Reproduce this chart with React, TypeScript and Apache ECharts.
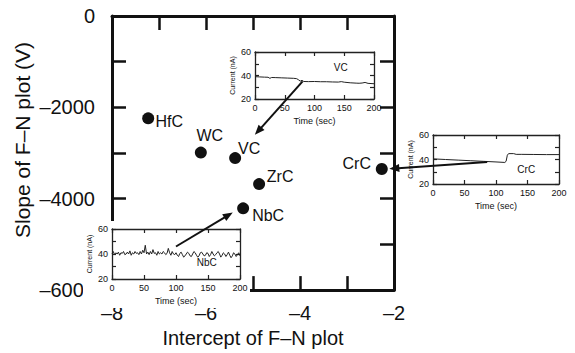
import React, { useEffect, useRef } from "react";
import * as echarts from "echarts";

// Main scatter data
const materials = ["HfC", "WC", "VC", "ZrC", "NbC", "CrC"];
const intercepts = [-7.23, -6.11, -5.38, -4.87, -5.21, -2.26];
const slopes = [-2240, -2990, -3110, -3680, -4210, -3350];

// Inset: VC current trace
const vcTime = [0, 8, 16, 22, 25, 28, 35, 45, 55, 65, 70, 73, 76, 79, 82, 90, 100, 110, 120, 130, 140, 145, 150, 160, 170, 175, 180, 185, 190, 200];
const vcCurrent = [39.0, 38.8, 38.6, 38.5, 37.6, 38.3, 38.2, 38.0, 37.8, 37.6, 37.3, 36.4, 35.2, 35.9, 34.9, 34.8, 34.9, 34.7, 34.7, 34.5, 34.4, 34.8, 34.3, 33.8, 33.5, 33.4, 33.6, 34.1, 33.3, 33.0];

// Inset: CrC current trace
const crcTime = [0, 20, 40, 60, 80, 100, 114, 116, 118, 120, 128, 132, 140, 160, 180, 200];
const crcCurrent = [40.5, 40.0, 39.5, 39.0, 38.5, 38.0, 37.6, 38.5, 43.5, 44.8, 44.8, 44.2, 44.2, 44.1, 44.0, 44.0];

// Inset: NbC current trace
const nbcTime = [0, 2, 4, 6, 8, 10, 12, 14, 16, 18, 20, 22, 24, 26, 28, 30, 32, 34, 36, 38, 40, 42, 44, 46, 48, 50, 52, 54, 56, 58, 60, 62, 64, 66, 68, 70, 72, 74, 76, 78, 80, 82, 84, 86, 88, 90, 92, 94, 96, 98, 100,
  102, 104, 106, 108, 110, 112, 114, 116, 118, 120, 122, 124, 126, 128, 130, 132, 134, 136, 138, 140, 142, 144, 146, 148, 150, 152, 154, 156, 158, 160, 162, 164, 166, 168, 170, 172, 174, 176, 178, 180, 182, 184, 186, 188, 190, 192, 194, 196, 198, 200];
const nbcCurrent = [40, 42, 39.5, 41, 40, 41.5, 39, 41, 40.5, 42, 39.5, 40, 41.5, 40, 42.5, 39, 41, 40, 42, 40.5, 41, 39.5, 42, 40, 43, 41, 47, 40, 41.5, 39.5, 42, 40, 43.5, 40.5, 41, 39, 42, 40, 41, 40, 42, 41, 39.5, 40.5, 44.5, 41, 39, 42, 40, 39.5, 41,
  39, 38, 40.5, 41.5, 39.5, 37.5, 38.5, 40, 41.5, 40.5, 38.5, 38, 40, 42, 41, 39, 37.5, 38.5, 41, 41.5, 40, 38.5, 39, 41, 40.5, 38, 39.5, 42, 40, 38.5, 39.5, 41, 42, 40, 37.5, 39, 41, 40, 38, 39.5, 41.5, 39, 37, 38.5, 41, 40, 38, 39.5, 41, 38.5];

// Axis ranges / ticks
const mainXRange = [-8, -2];
const mainYRange = [-6000, 0];
const insetTimeRange = [0, 200];
const insetCurrentRange = [20, 60];

const FONT = "'Liberation Sans', Arial, Helvetica, sans-serif";
const INK = "#111";

// label offsets (px) for the material names
const labelOffsets: Record<string, [number, number]> = {
  HfC: [21, 3],
  WC: [9, -17],
  VC: [14, -10],
  ZrC: [21, -8],
  NbC: [25, 7],
  CrC: [-25, -6],
};

const minus = (v: number) => String(v).replace("-", "\u2013");

function mainAxes() {
  const xBase = {
    gridIndex: 0,
    type: "value",
    min: mainXRange[0],
    max: mainXRange[1],
    interval: 1,
    axisLine: { onZero: false, lineStyle: { color: INK, width: 3 } },
    axisTick: { inside: true, length: 14, lineStyle: { color: INK, width: 2.5 } },
    splitLine: { show: false },
  };
  const yBase = {
    gridIndex: 0,
    type: "value",
    min: mainYRange[0],
    max: mainYRange[1],
    interval: 1000,
    axisLine: { onZero: false, lineStyle: { color: INK, width: 3 } },
    axisTick: { inside: true, length: 14, lineStyle: { color: INK, width: 2.5 } },
    splitLine: { show: false },
  };
  const x = [
    {
      ...xBase,
      position: "bottom",
      axisLabel: {
        fontSize: 20, fontFamily: FONT, color: INK, margin: 13,
        formatter: (v: number) => (v % 2 === 0 ? minus(v) : ""),
      },
      name: "Intercept of F\u2013N plot",
      nameLocation: "middle",
      nameGap: 33,
      nameTextStyle: { fontSize: 20, fontFamily: FONT, color: INK },
    },
    { ...xBase, position: "top", axisLabel: { show: false } },
  ];
  const y = [
    {
      ...yBase,
      position: "left",
      axisLabel: {
        fontSize: 20, fontFamily: FONT, color: INK, margin: 17,
        formatter: (v: number) => (v % 2000 === 0 ? minus(v) : ""),
      },
    },
    { ...yBase, position: "right", axisLabel: { show: false } },
  ];
  return { x, y };
}

function insetAxes(gi: number) {
  const line = { onZero: false, lineStyle: { color: "#222", width: 1.3 } };
  const tick = { inside: true, length: 4, lineStyle: { color: "#222", width: 1.2 } };
  const lbl = { fontSize: 9, fontFamily: FONT, color: INK, margin: 4 };
  const xb = {
    gridIndex: gi, type: "value", min: insetTimeRange[0], max: insetTimeRange[1], interval: 50,
    axisLine: line, axisTick: tick, splitLine: { show: false }, z: 3,
  };
  const yb = {
    gridIndex: gi, type: "value", min: insetCurrentRange[0], max: insetCurrentRange[1], interval: 10,
    axisLine: line, axisTick: tick, splitLine: { show: false }, z: 3,
  };
  return {
    x: [
      {
        ...xb, position: "bottom", axisLabel: lbl,
        name: "Time (sec)", nameLocation: "middle", nameGap: 17,
        nameTextStyle: { fontSize: 9, fontFamily: FONT, color: INK },
      },
      { ...xb, position: "top", axisLabel: { show: false } },
    ],
    y: [
      {
        ...yb, position: "left",
        axisLabel: { ...lbl, formatter: (v: number) => (v % 20 === 0 ? String(v) : "") },
        name: "Current (nA)", nameLocation: "middle", nameGap: 19, nameRotate: 90,
        nameTextStyle: { fontSize: 7, fontFamily: FONT, color: INK },
      },
      { ...yb, position: "right", axisLabel: { show: false } },
    ],
  };
}

export default function App() {
  const ref = useRef<HTMLDivElement>(null);
  useEffect(() => {
    if (!ref.current) return;
    const chart = echarts.init(ref.current, null, { renderer: "svg" });
    const m = mainAxes();
    const a1 = insetAxes(1);
    const a2 = insetAxes(2);
    const a3 = insetAxes(3);
    const option: any = {
      animation: false,
      backgroundColor: "#fff",
      grid: [
        { left: 112, top: 16, width: 282, height: 279 },
        { left: 255, top: 52, width: 119, height: 47 },
        { left: 433, top: 135, width: 126, height: 49 },
        { left: 112, top: 229, width: 128, height: 50 },
      ],
      xAxis: [...m.x, ...a1.x, ...a2.x, ...a3.x],
      yAxis: [...m.y, ...a1.y, ...a2.y, ...a3.y],
      series: [
        {
          type: "scatter",
          xAxisIndex: 0,
          yAxisIndex: 0,
          symbolSize: 12,
          itemStyle: { color: INK, opacity: 1 },
          z: 2,
          data: materials.map((name, i) => ({
            name,
            value: [intercepts[i], slopes[i]],
            label: {
              show: true,
              formatter: name,
              position: "inside",
              align: "center",
              verticalAlign: "middle",
              offset: labelOffsets[name],
              fontSize: 16,
              fontFamily: FONT,
              color: INK,
              opacity: 1,
            },
          })),
        },
        {
          type: "line", xAxisIndex: 2, yAxisIndex: 2, showSymbol: false, z: 4,
          lineStyle: { color: "#222", width: 1 },
          data: vcTime.map((t, i) => [t, vcCurrent[i]]),
        },
        {
          type: "line", xAxisIndex: 4, yAxisIndex: 4, showSymbol: false, z: 4,
          lineStyle: { color: "#222", width: 1 },
          data: crcTime.map((t, i) => [t, crcCurrent[i]]),
        },
        {
          type: "line", xAxisIndex: 6, yAxisIndex: 6, showSymbol: false, z: 4,
          lineStyle: { color: "#222", width: 1 },
          data: nbcTime.map((t, i) => [t, nbcCurrent[i]]),
        },
      ],
    };
    chart.setOption(option);

    const g: any[] = [];
    // white backing of the NbC inset that hides part of the main frame
    g.push({ type: "rect", shape: { x: 83, y: 221, width: 167, height: 87 }, style: { fill: "#fff" }, z: 1, silent: true });
    // y axis title
    g.push({
      type: "text", x: 22, y: 140, rotation: Math.PI / 2, z: 5,
      style: { text: "Slope of F\u2013N plot (V)", font: `21px ${FONT}`, fill: INK, textAlign: "center", textVerticalAlign: "middle" },
    });
    // inset titles anchored in inset data coordinates
    const insetTitles = [
      { grid: 1, text: "VC", at: [144, 47] },
      { grid: 2, text: "CrC", at: [148, 32] },
      { grid: 3, text: "NbC", at: [148, 33] },
    ];
    insetTitles.forEach((it) => {
      const p = chart.convertToPixel({ gridIndex: it.grid } as any, it.at) as number[];
      g.push({
        type: "text", x: p[0], y: p[1], z: 6,
        style: { text: it.text, font: `10px ${FONT}`, fill: INK, textAlign: "center", textVerticalAlign: "middle" },
      });
    });
    // arrows between insets and points
    const arrows = [
      { fromGrid: 1, from: [80, 35], toGrid: 0, to: [-4.96, -2600] },
      { fromGrid: 3, from: [100, 46], toGrid: 0, to: [-5.43, -4300] },
      { fromGrid: 2, from: [86, 38], toGrid: 0, to: [-2.1, -3345] },
    ];
    arrows.forEach((a) => {
      const p0 = chart.convertToPixel({ gridIndex: a.fromGrid } as any, a.from) as number[];
      const p1 = chart.convertToPixel({ gridIndex: a.toGrid } as any, a.to) as number[];
      const dx = p1[0] - p0[0];
      const dy = p1[1] - p0[1];
      const L = Math.hypot(dx, dy);
      const ux = dx / L;
      const uy = dy / L;
      const hl = 10;
      const hw = 4;
      const bx = p1[0] - ux * hl;
      const by = p1[1] - uy * hl;
      g.push({ type: "line", shape: { x1: p0[0], y1: p0[1], x2: bx + ux, y2: by + uy }, style: { stroke: INK, lineWidth: 2 }, z: 50 });
      g.push({
        type: "polygon", z: 50,
        shape: { points: [[p1[0], p1[1]], [bx - uy * hw, by + ux * hw], [bx + uy * hw, by - ux * hw]] },
        style: { fill: INK },
      });
    });
    chart.setOption({ graphic: g });
    return () => chart.dispose();
  }, []);
  return <div ref={ref} style={{ position: "fixed", left: 0, top: 0, width: 575, height: 353 }} />;
}
